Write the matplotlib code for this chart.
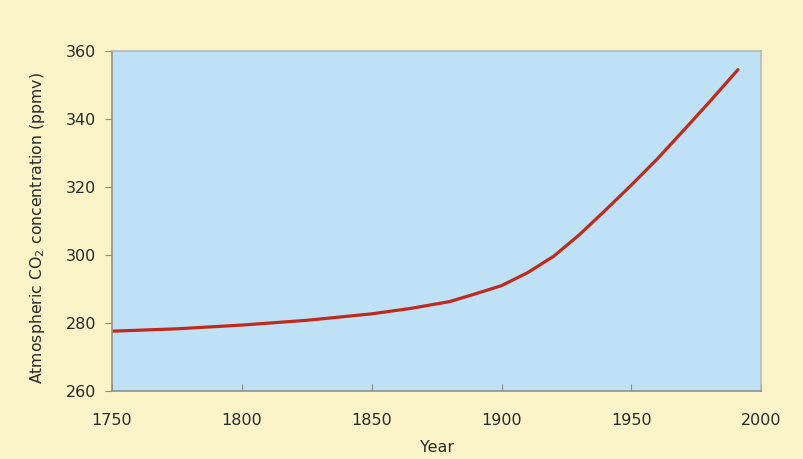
import matplotlib.pyplot as plt

YEARS = [1750, 1775, 1800, 1825, 1850, 1865, 1880, 1890, 1900, 1910,
         1920, 1930, 1940, 1950, 1960, 1970, 1980, 1991]
CO2 = [277.6, 278.3, 279.4, 280.8, 282.7, 284.3, 286.3, 288.6, 291.0, 294.8,
       299.6, 306.0, 313.2, 320.6, 328.3, 336.6, 345.0, 354.5]
XTICKS = [1750, 1800, 1850, 1900, 1950, 2000]
YTICKS = [260, 280, 300, 320, 340, 360]

BG = '#faf3c8'
PLOT_BG = '#bfe1f5'
LINE = '#bf2a1c'

plt.rcParams['font.family'] = ['DejaVu Sans']

fig = plt.figure(figsize=(8.04, 4.59), dpi=100, facecolor=BG)
ax = fig.add_axes([0.139, 0.148, 0.808, 0.741])
ax.set_facecolor(PLOT_BG)

ax.plot(YEARS, CO2, color=LINE, lw=2.3, solid_capstyle='round', solid_joinstyle='round')

ax.set_xlim(1750, 2000)
ax.set_ylim(260, 360)
ax.set_xticks(XTICKS)
ax.set_yticks(YTICKS)
ax.tick_params(axis='both', labelsize=11.5, colors='#8a8a8a', labelcolor='#2a2a2a', length=5)
ax.tick_params(axis='y', pad=6)
ax.tick_params(axis='x', direction='in', pad=16)
for name, s in ax.spines.items():
    s.set_color('#909090' if name in ('left', 'bottom') else '#b8b8b8')
    s.set_linewidth(1.2)

ax.set_xlabel('Year', fontsize=11.5, color='#2a2a2a')
ax.xaxis.set_label_coords(0.5, -0.145)
ax.set_ylabel('Atmospheric CO$_2$ concentration (ppmv)', fontsize=11.3, color='#2a2a2a')
ax.yaxis.set_label_coords(-0.10, 0.48)

fig.savefig('out.png', dpi=100, facecolor=BG)
